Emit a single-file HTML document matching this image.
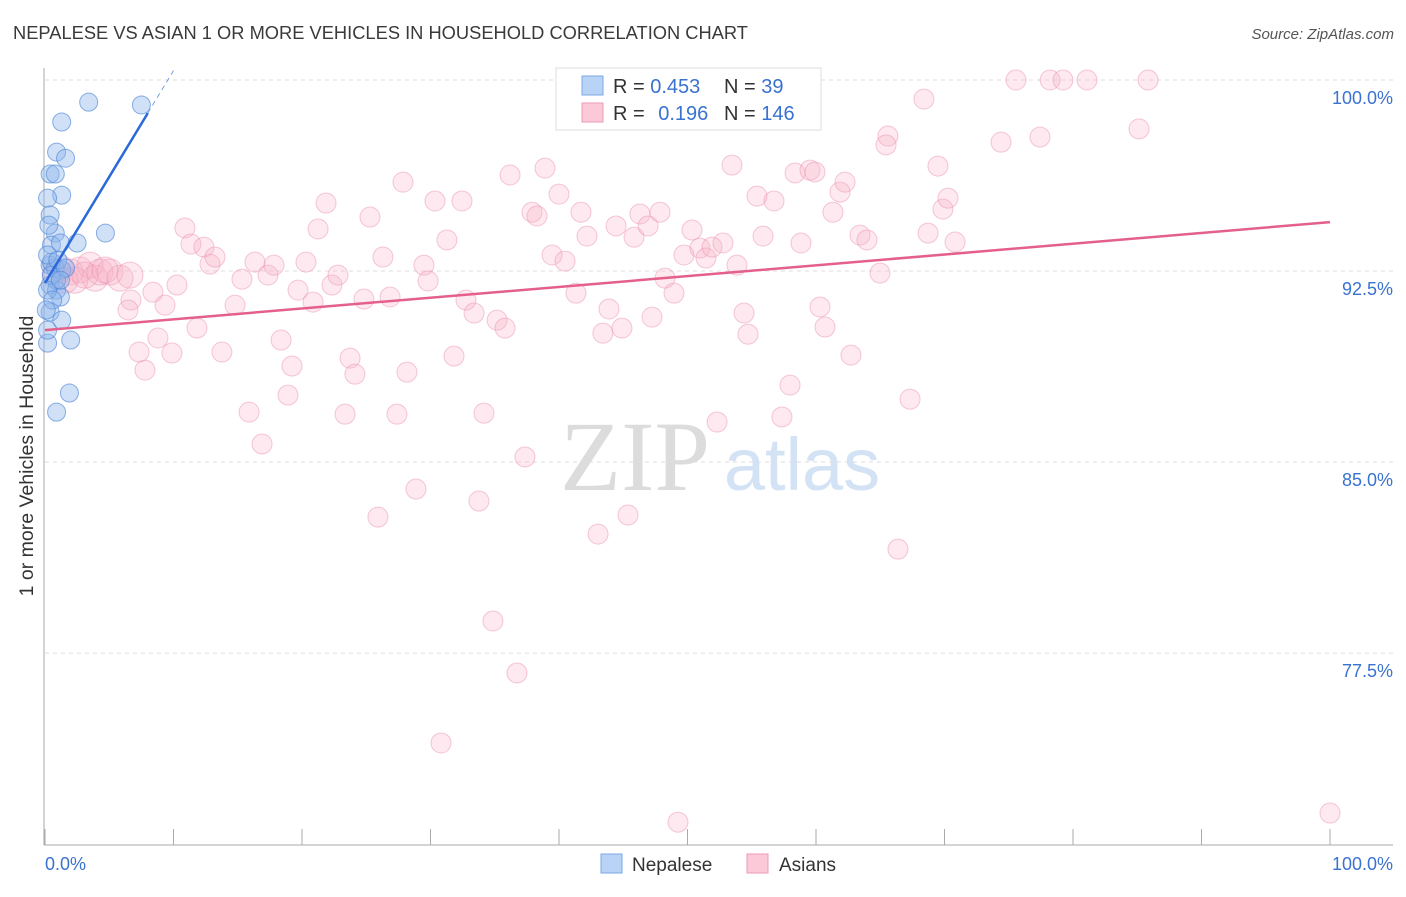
<!DOCTYPE html>
<html><head><meta charset="utf-8"><style>
body{margin:0;background:#fff;font-family:"Liberation Sans",sans-serif}
svg text{font-family:"Liberation Sans",sans-serif}
</style></head><body>
<svg id="chart" width="1406" height="892" xmlns="http://www.w3.org/2000/svg">
<text x="13" y="39" font-size="18" fill="#3a3a3a" textLength="735" lengthAdjust="spacingAndGlyphs">NEPALESE VS ASIAN 1 OR MORE VEHICLES IN HOUSEHOLD CORRELATION CHART</text>
<text x="1394" y="39" font-size="15" fill="#555" text-anchor="end" font-style="italic">Source: ZipAtlas.com</text>
<g>
<text x="635" y="490" font-size="100" fill="#dcdcdc" text-anchor="middle" style="font-family:'Liberation Serif',serif">ZIP</text>
<text x="802" y="490" font-size="74" fill="#d3e3f5" text-anchor="middle">atlas</text>
</g>
<g id="grid"></g>
<g id="axes"></g>
<g id="pts"></g>
<g id="lines"></g>
<g>
<rect x="556" y="68" width="265" height="62" fill="#fff" stroke="#ddd"/>
<rect x="582" y="76" width="21" height="19" fill="#b8d3f5" stroke="#7aa7e3"/>
<rect x="582" y="103" width="21" height="19" fill="#fbc9d8" stroke="#ec9ab4"/>
<text x="613" y="93" font-size="20" fill="#333">R = <tspan fill="#3a72d0">0.453</tspan></text>
<text x="724" y="93" font-size="20" fill="#333">N = <tspan fill="#3a72d0">39</tspan></text>
<text x="613" y="120" font-size="20" fill="#333">R = <tspan fill="#3a72d0" dx="8">0.196</tspan></text>
<text x="724" y="120" font-size="20" fill="#333">N = <tspan fill="#3a72d0">146</tspan></text>
</g>
<g>
<rect x="601" y="854" width="21" height="19" fill="#b8d3f5" stroke="#7aa7e3"/>
<text x="632" y="871" font-size="19" fill="#333">Nepalese</text>
<rect x="747" y="854" width="21" height="19" fill="#fbc9d8" stroke="#ec9ab4"/>
<text x="779" y="871" font-size="19" fill="#333">Asians</text>
</g>
<text transform="translate(33,456) rotate(-90)" font-size="19.5" fill="#333" text-anchor="middle">1 or more Vehicles in Household</text>
<text x="45" y="870" font-size="18" fill="#3a72d0">0.0%</text>
<text x="1393" y="870" font-size="18" fill="#3a72d0" text-anchor="end">100.0%</text>
</svg>
<script>
const yTicks=[100,92.5,85,77.5];
const yTickLabels=["100.0%","92.5%","85.0%","77.5%"];
const xTicks=[0,10,20,30,40,50,60,70,80,90,100];
const nepX=[3.4,7.5,1.3,0.9,1.6,0.4,0.8,1.3,0.2,0.4,4.7,0.8,0.5,2.5,1.2,0.4,0.8,1.3,0.4,0.9,1.2,0.4,1.3,0.2,2.0,1.9,0.9,0.5,0.9,0.2,0.5,0.2,1.0,1.6,0.2,0.6,0.3,1.2,0.1];
const nepY=[99.13,99.02,98.35,97.17,96.93,96.31,96.31,95.48,95.36,94.70,93.99,93.99,93.52,93.60,93.60,92.73,92.62,92.54,91.95,91.75,91.48,90.89,90.57,89.67,89.79,87.71,86.96,92.85,92.14,93.13,92.34,91.75,92.93,92.62,90.18,91.36,94.30,92.14,90.97];
const asX=[1.17,1.95,2.72,3.5,3.89,4.28,5.06,5.84,2.33,0.78,1.56,3.11,4.67,6.61,6.69,6.46,8.4,9.34,10.27,7.32,7.78,9.88,8.79,11.83,10.89,11.36,12.37,12.84,13.23,13.77,14.79,15.33,15.88,16.89,16.34,17.35,17.82,18.37,19.22,18.91,19.69,20.31,20.86,21.87,21.25,22.33,22.8,23.35,23.74,24.12,24.82,25.29,25.91,26.3,26.85,27.39,27.86,28.17,28.87,29.49,29.81,30.35,31.28,30.82,31.83,32.45,32.76,33.39,33.77,34.16,34.86,35.18,35.8,36.19,36.73,37.35,37.9,38.29,38.91,39.46,40,40.47,41.32,41.71,42.18,43.04,43.42,43.89,44.44,44.9,45.37,45.84,46.3,46.93,47.24,47.86,48.25,48.95,49.26,50.35,49.73,50.97,51.44,51.91,52.3,52.76,53.46,53.85,54.4,54.71,55.41,55.88,56.73,57.35,57.98,58.37,58.83,59.53,59.92,60.31,60.7,61.32,61.87,62.26,62.72,63.42,63.97,64.98,65.6,65.45,66.38,67.32,68.4,68.72,69.49,69.88,70.27,70.82,74.4,75.56,77.43,78.21,79.22,81.09,85.14,85.84,100,56.19];
const asY=[92.62,92.46,92.54,92.73,92.22,92.46,92.46,92.22,92.14,92.34,92.14,92.34,92.54,92.34,91.36,90.97,91.67,91.16,91.95,89.32,88.61,89.28,89.87,90.26,94.19,93.56,93.44,92.77,93.05,89.32,91.16,92.18,86.96,85.71,92.85,92.34,92.73,89.79,88.77,87.63,91.75,92.85,91.28,95.17,94.15,91.95,92.34,86.88,89.08,88.45,91.4,94.62,82.84,93.05,91.48,86.88,95.99,88.53,83.94,92.73,92.11,95.25,93.72,73.97,89.16,95.25,91.36,90.85,83.47,86.92,78.76,90.57,90.26,96.27,76.72,85.2,94.81,94.66,96.54,93.13,95.52,92.89,91.63,94.81,93.87,82.17,90.06,91.01,94.27,90.26,82.92,93.83,94.74,94.27,90.69,94.81,92.22,91.63,70.86,94.11,93.13,93.4,93.01,93.44,86.57,93.6,96.66,92.73,90.85,90.02,95.44,93.87,95.25,86.77,88.02,96.35,93.6,96.46,96.39,91.09,90.3,94.81,95.6,95.99,89.2,93.91,93.72,92.42,97.8,97.45,81.58,87.47,99.25,93.99,96.62,94.93,95.36,93.64,97.56,100,97.76,100,100,100,98.08,100,71.22,99.8];
const nepTrend=[[0,92.03],[8,98.7]];
const asTrend=[[0,90.18],[100,94.42]];
const NS="http://www.w3.org/2000/svg";
function X(v){return 45+v*12.85;}
function Y(v){return 80+(100-v)*25.47;}
function mk(tag,attrs,parent){const e=document.createElementNS(NS,tag);for(const k in attrs)e.setAttribute(k,attrs[k]);parent.appendChild(e);return e;}
const grid=document.getElementById('grid'),axes=document.getElementById('axes'),pts=document.getElementById('pts'),lines=document.getElementById('lines');
yTicks.forEach((t,i)=>{
 const l=mk('line',{x1:45,x2:1393,y1:Y(t),y2:Y(t),stroke:'#dedede','stroke-dasharray':'4,4'},grid);
 
 
 const tx=mk('text',{x:1393,y:Y(t)+24,'font-size':18,fill:'#3a72d0','text-anchor':'end'},grid);
 tx.textContent=yTickLabels[i];
 
 
});
const ya=mk('line',{x1:44,x2:44,y1:68,y2:845,stroke:'#aaa'},axes);


const xa=mk('line',{x1:44,x2:1393,y1:845,y2:845,stroke:'#aaa'},axes);


xTicks.forEach(t=>{
 const l=mk('line',{x1:X(t),x2:X(t),y1:829,y2:845,stroke:'#aaa'},axes);
 
 
});
asX.forEach((x,i)=>{
 const big=(x<7&&asY[i]>91.9&&asY[i]<93);
 const c=mk('circle',{cx:X(x),cy:Y(asY[i]),r:big?13:10,fill:'rgba(248,175,198,0.28)',stroke:'rgba(236,145,178,0.5)','stroke-width':1},pts);
 
 
});
nepX.forEach((x,i)=>{
 const c=mk('circle',{cx:X(x),cy:Y(nepY[i]),r:9,fill:'rgba(140,180,235,0.42)',stroke:'rgba(80,135,215,0.65)','stroke-width':1},pts);
 
 
});
const slope=(nepTrend[1][1]-nepTrend[0][1])/(nepTrend[1][0]-nepTrend[0][0]);
const ext=10;
const d=mk('line',{x1:X(nepTrend[1][0]),y1:Y(nepTrend[1][1]),x2:X(ext),y2:Y(nepTrend[0][1]+slope*ext),stroke:'#7aa0e0','stroke-dasharray':'5,4','stroke-width':1},lines);


const nl=mk('line',{x1:X(nepTrend[0][0]),y1:Y(nepTrend[0][1]),x2:X(nepTrend[1][0]),y2:Y(nepTrend[1][1]),stroke:'#2a6ad8','stroke-width':2.5},lines);


const al=mk('line',{x1:X(asTrend[0][0]),y1:Y(asTrend[0][1]),x2:X(asTrend[1][0]),y2:Y(asTrend[1][1]),stroke:'#e4608a','stroke-width':2.5},lines);


</script>
</body></html>
